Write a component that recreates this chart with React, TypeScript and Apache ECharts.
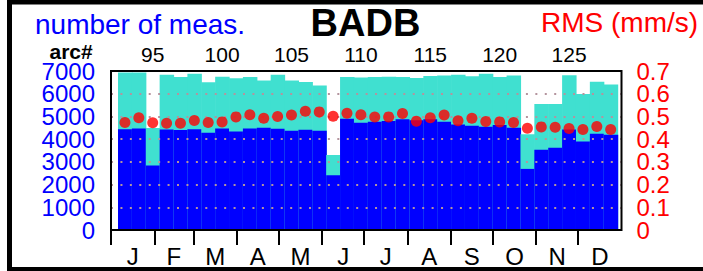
import React, { useEffect, useRef } from "react";
import * as echarts from "echarts";

// arc numbers (≈10-day cycles)
const arcs = [
  93, 94, 95, 96, 97, 98, 99, 100, 101, 102, 103, 104, 105, 106, 107, 108, 109, 110,
  111, 112, 113, 114, 115, 116, 117, 118, 119, 120, 121, 122, 123, 124, 125, 126, 127, 128,
];
// total number of measurements per arc (cyan)
const totalMeas = [
  6930, 6930, 4490, 6830, 6740, 6880, 6500, 6750, 6680, 6740, 6580, 6830, 6580, 6520, 6360, 3300, 6740, 6710,
  6740, 6750, 6740, 6690, 6780, 6800, 6830, 6770, 6880, 6740, 6800, 4210, 5550, 5550, 6810, 5990, 6530, 6410,
];
// used measurements per arc (blue)
const usedMeas = [
  4440, 4470, 2840, 4430, 4400, 4440, 4280, 4470, 4340, 4470, 4500, 4460, 4370, 4410, 4370, 2410, 4900, 4720,
  4770, 4800, 4880, 4830, 4880, 4770, 4650, 4590, 4550, 4620, 4500, 2690, 3530, 3620, 4430, 3900, 4240, 4190,
];
// RMS of residuals (mm/s)
const rmsValues = [
  0.473, 0.494, 0.472, 0.470, 0.470, 0.482, 0.473, 0.476, 0.498, 0.507, 0.492, 0.500, 0.506, 0.523, 0.520, 0.501, 0.514, 0.507,
  0.497, 0.498, 0.513, 0.479, 0.494, 0.506, 0.481, 0.492, 0.478, 0.476, 0.473, 0.448, 0.454, 0.452, 0.447, 0.442, 0.456, 0.442,
];
const arcTicks = [95, 100, 105, 110, 115, 120, 125];
const monthLetters = ["J", "F", "M", "A", "M", "J", "J", "A", "S", "O", "N", "D"];
const monthStarts = [0, 31, 59, 90, 120, 151, 181, 212, 243, 273, 304, 334];
const monthLengths = [31, 28, 31, 30, 31, 30, 31, 31, 30, 31, 30, 31];
const leftTickLabels = ["0", "1000", "2000", "3000", "4000", "5000", "6000", "7000"];
const rightTickLabels = ["0", "0.1", "0.2", "0.3", "0.4", "0.5", "0.6", "0.7"];

const FONT = "'Liberation Sans', Arial, Helvetica, sans-serif";

export default function App() {
  const ref = useRef<HTMLDivElement>(null);

  useEffect(() => {
    if (!ref.current) return;
    const chart = echarts.init(ref.current, null, { renderer: "svg" });
    const monthMids = monthStarts.map((s, i) => s + monthLengths[i] / 2);
    const barData = arcs.map((a, i) => [a, totalMeas[i], usedMeas[i]]);
    const rmsData = arcs.map((a, i) => [a, rmsValues[i]]);

    const labelAxis = (pos: string, data: string[], color: string, margin: number) => ({
      type: "category",
      position: pos,
      data,
      boundaryGap: false,
      axisLine: { show: false },
      axisTick: { show: false },
      splitLine: { show: false },
      axisLabel: {
        interval: 0,
        color,
        fontSize: 24,
        lineHeight: 19,
        margin,
        fontFamily: FONT,
      },
    });

    chart.setOption({
      animation: false,
      backgroundColor: "#fff",
      textStyle: { fontFamily: FONT },
      grid: {
        left: 111,
        right: 81.5,
        top: 71,
        bottom: 41,
        show: true,
        borderColor: "#000",
        borderWidth: 2,
        backgroundColor: "transparent",
        z: 4,
      },
      xAxis: [
        {
          type: "value",
          position: "bottom",
          min: 0,
          max: 365,
          axisLine: { show: false },
          splitLine: { show: false },
          axisTick: {
            show: true,
            customValues: monthStarts,
            length: 15,
            lineStyle: { color: "#000", width: 2 },
          },
          axisLabel: {
            show: true,
            customValues: monthMids,
            margin: 14,
            fontSize: 24,
            color: "#000",
            fontFamily: FONT,
            formatter: (v: number) => {
              const i = monthMids.findIndex((m) => Math.abs(m - v) < 0.01);
              return i >= 0 ? monthLetters[i] : "";
            },
          },
        },
        {
          type: "value",
          position: "top",
          min: 91.995,
          max: 128.78,
          axisLine: { show: false },
          splitLine: { show: false },
          axisTick: {
            show: true,
            customValues: arcTicks,
            length: 13,
            lineStyle: { color: "#000", width: 2 },
          },
          axisLabel: {
            show: true,
            customValues: arcTicks,
            margin: 8,
            fontSize: 21,
            lineHeight: 18,
            color: "#000",
            fontFamily: FONT,
          },
        },
      ],
      yAxis: [
        {
          type: "value",
          position: "left",
          min: 0,
          max: 7000,
          interval: 1000,
          z: 3,
          axisLine: { show: false },
          axisTick: { show: false },
          axisLabel: { show: false },
          splitLine: {
            show: true,
            lineStyle: { color: "#b4949e", width: 2, type: [2, 7.43] },
          },
        },
        {
          type: "value",
          position: "right",
          min: 0,
          max: 0.7,
          interval: 0.1,
          axisLine: { show: false },
          axisTick: { show: false },
          splitLine: { show: false },
          axisLabel: { show: false },
        },
        labelAxis("left", leftTickLabels, "#0000ff", 16),
        labelAxis("right", rightTickLabels, "#ff0000", 15),
      ],
      series: [
        {
          type: "custom",
          xAxisIndex: 1,
          yAxisIndex: 0,
          z: 1,
          data: barData,
          renderItem: (params: any, api: any) => {
            const a = api.value(0);
            const tot = api.value(1);
            const used = api.value(2);
            const pTop = api.coord([a - 0.5, tot]);
            const pUsed = api.coord([a - 0.5, used]);
            const pBase = api.coord([a + 0.5, 0]);
            const w = pBase[0] - pTop[0] + 0.6;
            return {
              type: "group",
              children: [
                {
                  type: "rect",
                  shape: { x: pTop[0], y: pTop[1], width: w, height: pBase[1] - pTop[1] },
                  style: { fill: "#40e0d0" },
                },
                {
                  type: "rect",
                  shape: { x: pUsed[0], y: pUsed[1], width: w, height: pBase[1] - pUsed[1] },
                  style: { fill: "#0000ff" },
                },
              ],
            };
          },
        },
        {
          type: "scatter",
          xAxisIndex: 1,
          yAxisIndex: 1,
          z: 5,
          symbol: "circle",
          symbolSize: 11,
          itemStyle: { color: "#ff0000" },
          data: rmsData,
        },
      ],
      graphic: [
        {
          type: "rect",
          z: 10,
          shape: { x: 9.5, y: 2, width: 720, height: 267.5 },
          style: { fill: "none", stroke: "#000", lineWidth: 5 },
        },
        {
          type: "text",
          x: 35,
          y: 24.5,
          style: {
            text: "number of meas.",
            fill: "#0000ff",
            fontSize: 28,
            fontFamily: FONT,
            verticalAlign: "middle",
            align: "left",
          },
        },
        {
          type: "text",
          x: 365.5,
          y: 23,
          style: {
            text: "BADB",
            fill: "#000",
            fontSize: 38,
            fontWeight: "bold",
            fontFamily: FONT,
            verticalAlign: "middle",
            align: "center",
          },
        },
        {
          type: "text",
          x: 541,
          y: 22.5,
          style: {
            text: "RMS (mm/s)",
            fill: "#ff0000",
            fontSize: 28,
            fontFamily: FONT,
            verticalAlign: "middle",
            align: "left",
          },
        },
        {
          type: "text",
          x: 49.5,
          y: 51,
          style: {
            text: "arc#",
            fill: "#000",
            fontSize: 21,
            lineHeight: 17,
            fontWeight: "bold",
            fontFamily: FONT,
            verticalAlign: "middle",
            align: "left",
          },
        },
      ],
    });
    return () => chart.dispose();
  }, []);

  return (
    <div
      ref={ref}
      style={{ position: "absolute", left: 0, top: 0, width: 703, height: 271, background: "#fff" }}
    />
  );
}
